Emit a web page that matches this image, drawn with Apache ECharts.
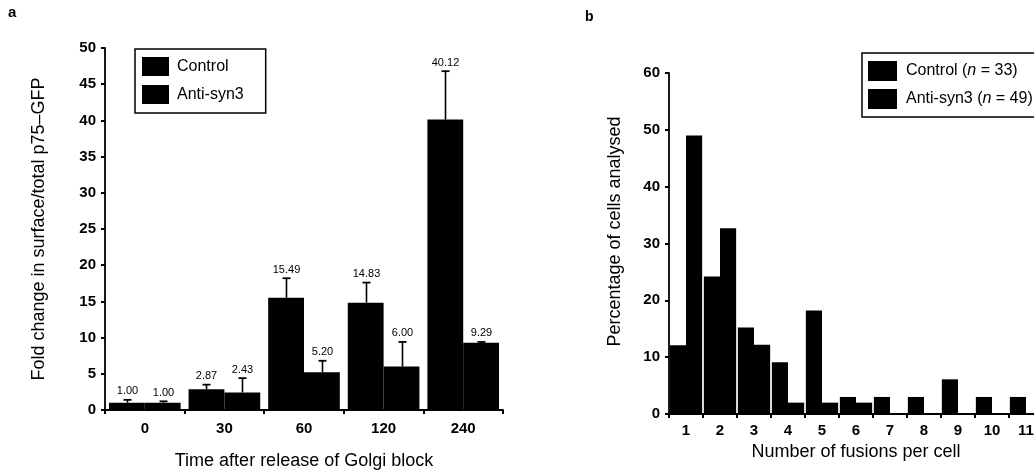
<!DOCTYPE html>
<html>
<head>
<meta charset="utf-8">
<script src="https://cdn.jsdelivr.net/npm/echarts@6/dist/echarts.min.js"></script>
<style>
html,body{margin:0;padding:0;background:#fff;overflow:hidden;}
#c{width:1034px;height:472px;}
</style>
</head>
<body>
<div id="c"></div>
<script>
// ---- Panel a data ----
const timeCats = ['0', '30', '60', '120', '240'];
const controlA = [1.00, 2.87, 15.49, 14.83, 40.12];
const antiA = [1.00, 2.43, 5.20, 6.00, 9.29];
const controlErrTop = [1.4, 3.5, 18.2, 17.6, 46.8];
const antiErrTop = [1.2, 4.4, 6.8, 9.4, 9.4];
const controlLabels = ['1.00', '2.87', '15.49', '14.83', '40.12'];
const antiLabels = ['1.00', '2.43', '5.20', '6.00', '9.29'];
const yTicksA = { min: 0, max: 50, interval: 5 };

// ---- Panel b data ----
const fusionCats = ['1', '2', '3', '4', '5', '6', '7', '8', '9', '10', '11'];
const controlB = [12.1, 24.2, 15.2, 9.1, 18.2, 3.0, 3.0, 3.0, 6.1, 3.0, 3.0];
const antiB = [49.0, 32.7, 12.2, 2.0, 2.0, 2.0, 0, 0, 0, 0, 0];
const yTicksB = { min: 0, max: 60, interval: 10 };

const seriesNamesA = ['Control', 'Anti-syn3'];
const seriesNamesB = ['Control (n = 33)', 'Anti-syn3 (n = 49)'];
const legendRichB = {
  'Control (n = 33)': '{t|Control (}{i|n}{t| = 33)}',
  'Anti-syn3 (n = 49)': '{t|Anti-syn3 (}{i|n}{t| = 49)}'
};

const FONT = "'Liberation Sans', Arial, Helvetica, sans-serif";

function errData(errTop, vals, sign) {
  return errTop.map((t, i) => [i, t, vals[i], sign]);
}

const errLabelLookup = { errControl: controlLabels, errAnti: antiLabels };

function renderErr(params, api) {
  const idx = api.value(0);
  const top = api.value(1);
  const val = api.value(2);
  const sign = api.value(3);
  const label = errLabelLookup[params.seriesName][params.dataIndex];
  const band = api.size([1, 0])[0];
  const off = sign * band * 0.225;
  const p0 = api.coord([idx, val]);
  const p1 = api.coord([idx, top]);
  const x = Math.round(p0[0] + off) + 0.5;
  return {
    type: 'group',
    children: [
      { type: 'line', shape: { x1: x, y1: p0[1], x2: x, y2: p1[1] }, style: { stroke: '#000', lineWidth: 1.6 } },
      { type: 'line', shape: { x1: x - 4, y1: p1[1], x2: x + 4, y2: p1[1] }, style: { stroke: '#000', lineWidth: 1.8 } },
      { type: 'text', x: x, y: p1[1] - 3, style: { text: label, textAlign: 'center', textVerticalAlign: 'bottom', font: '11px ' + FONT, fill: '#000' } }
    ]
  };
}

const axisLineStyle = { color: '#000', width: 1.8 };
const tickLabel = { color: '#000', fontSize: 15, fontWeight: 'bold', fontFamily: FONT };
const axisNameStyle = { color: '#000', fontSize: 18, fontFamily: FONT };

const chart = echarts.init(document.getElementById('c'), null, { renderer: 'canvas' });
chart.setOption({
  animation: false,
  backgroundColor: '#fff',
  title: [
    { text: 'a', left: 8, top: 5, padding: 0, textStyle: { fontSize: 15, fontWeight: 'bold', fontFamily: FONT, color: '#000' } },
    { text: 'b', left: 585, top: 10, padding: 0, textStyle: { fontSize: 14, fontWeight: 'bold', fontFamily: FONT, color: '#000' } }
  ],
  legend: [
    {
      data: seriesNamesA,
      left: 135, top: 49, orient: 'vertical',
      itemWidth: 27, itemHeight: 19, itemGap: 9,
      icon: 'rect',
      borderColor: '#000', borderWidth: 1.5,
      padding: [8, 22, 9, 7],
      textStyle: { color: '#000', fontSize: 16, fontFamily: FONT, padding: [0, 0, 0, 3] }
    },
    {
      data: seriesNamesB,
      left: 862, top: 53, orient: 'vertical',
      itemWidth: 29, itemHeight: 20, itemGap: 8,
      icon: 'rect',
      borderColor: '#000', borderWidth: 1.5,
      padding: [8, 10, 8, 6],
      formatter: (name) => legendRichB[name],
      textStyle: {
        color: '#000', fontSize: 16, fontFamily: FONT, padding: [0, 0, 0, 4],
        rich: {
          t: { fontSize: 16, fontFamily: FONT, color: '#000' },
          i: { fontSize: 16, fontFamily: FONT, color: '#000', fontStyle: 'italic' }
        }
      }
    }
  ],
  grid: [
    { left: 105, top: 48, width: 398, height: 362, containLabel: false, outerBoundsMode: 'none' },
    { left: 669, top: 73, width: 374, height: 341, containLabel: false, outerBoundsMode: 'none' }
  ],
  xAxis: [
    {
      type: 'category', gridIndex: 0, data: timeCats,
      axisLine: { lineStyle: axisLineStyle },
      axisTick: { show: true, length: 4, lineStyle: { color: '#000', width: 2 } },
      axisLabel: Object.assign({ margin: 11 }, tickLabel),
      name: 'Time after release of Golgi block', nameLocation: 'middle', nameGap: 42,
      nameTextStyle: axisNameStyle
    },
    {
      type: 'category', gridIndex: 1, data: fusionCats,
      axisLine: { lineStyle: axisLineStyle },
      axisTick: { show: true, length: 4, lineStyle: { color: '#000', width: 2 } },
      axisLabel: Object.assign({ margin: 9 }, tickLabel),
      name: 'Number of fusions per cell', nameLocation: 'middle', nameGap: 20,
      nameTextStyle: axisNameStyle
    }
  ],
  yAxis: [
    Object.assign({
      type: 'value', gridIndex: 0,
      axisLine: { show: true, lineStyle: axisLineStyle },
      axisTick: { show: true, length: 4, lineStyle: { color: '#000', width: 2 } },
      splitLine: { show: false },
      axisLabel: Object.assign({ margin: 9 }, tickLabel),
      name: 'Fold change in surface/total p75–GFP', nameLocation: 'middle', nameRotate: 90, nameGap: 57,
      nameTextStyle: axisNameStyle
    }, yTicksA),
    Object.assign({
      type: 'value', gridIndex: 1,
      axisLine: { show: true, lineStyle: axisLineStyle },
      axisTick: { show: true, length: 4, lineStyle: { color: '#000', width: 2 } },
      splitLine: { show: false },
      axisLabel: Object.assign({ margin: 9 }, tickLabel),
      name: 'Percentage of cells analysed', nameLocation: 'middle', nameRotate: 90, nameGap: 45,
      nameTextStyle: Object.assign({ padding: [0, 0, 0, 24] }, axisNameStyle)
    }, yTicksB)
  ],
  series: [
    { name: seriesNamesA[0], type: 'bar', xAxisIndex: 0, yAxisIndex: 0, data: controlA, barGap: '0%', barCategoryGap: '10%', itemStyle: { color: '#000' } },
    { name: seriesNamesA[1], type: 'bar', xAxisIndex: 0, yAxisIndex: 0, data: antiA, barGap: '0%', barCategoryGap: '10%', itemStyle: { color: '#000' } },
    { name: 'errControl', type: 'custom', xAxisIndex: 0, yAxisIndex: 0, data: errData(controlErrTop, controlA, -1), renderItem: renderErr, z: 5 },
    { name: 'errAnti', type: 'custom', xAxisIndex: 0, yAxisIndex: 0, data: errData(antiErrTop, antiA, 1), renderItem: renderErr, z: 5 },
    { name: seriesNamesB[0], type: 'bar', xAxisIndex: 1, yAxisIndex: 1, data: controlB, barGap: '0%', barCategoryGap: '5%', itemStyle: { color: '#000' } },
    { name: seriesNamesB[1], type: 'bar', xAxisIndex: 1, yAxisIndex: 1, data: antiB, barGap: '0%', barCategoryGap: '5%', itemStyle: { color: '#000' } }
  ]
});
</script>
</body>
</html>
